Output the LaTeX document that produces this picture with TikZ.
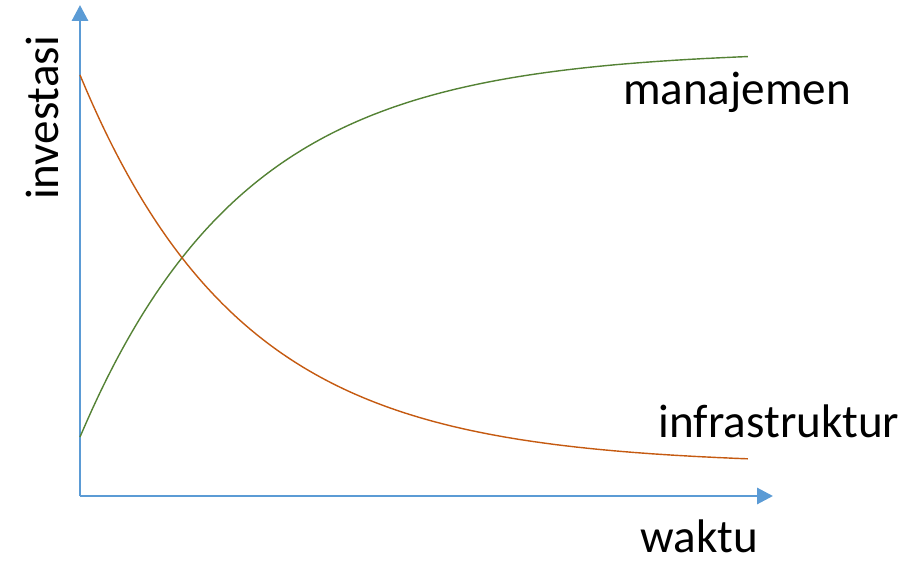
\documentclass[tikz,border=0pt]{standalone}
\usepackage{fontspec}
\setmainfont{Carlito}
\usepackage{tikz}
\usetikzlibrary{arrows.meta,calc}

\definecolor{axisblue}{HTML}{5B9BD5}
\definecolor{mgmtgreen}{HTML}{548235}
\definecolor{infraorange}{HTML}{C55A11}

\tikzset{
	axisline/.style={axisblue,line width=1.7pt,-{Triangle[length=0.32cm,width=0.32cm]}},
	curveline/.style={line width=0.8pt},
	lbl/.style={font=\fontsize{26.8}{30}\selectfont,inner sep=0pt,anchor=base}
}

\begin{document}
\begin{tikzpicture}
		\useasboundingbox (-1.6,-1.34) rectangle (16.8,9.92);
		
		% axes
		\coordinate (O) at (0,0);
		\coordinate (xend) at (13.86,0);
		\coordinate (yend) at (0,9.82);
		\draw[axisline] (O) -- (xend);
		\draw[axisline] (O) -- (yend);
		\node[lbl] (waktu) at (12.38,-1.12) {waktu};
		\node[lbl,rotate=90] (investasi) at (-0.44,7.56) {investasi};
		
		% management investment grows
		\draw[domain=0:13.36,samples=200,smooth,variable=\x,
		mgmtgreen,curveline]
		plot (\x,{8.92 - 7.74*exp(-0.305*\x)});
		\node[lbl] (manajemen) at (13.14,7.82) {manajemen};
		
		% infrastructure investment decays
		\draw[domain=0:13.36,samples=200,smooth,variable=\x,
		infraorange,curveline]
		plot (\x,{0.62 + 7.8*exp(-0.31*\x)});
		\node[lbl] (infrastruktur) at (13.98,1.18) {infrastruktur};
		
	\end{tikzpicture}
\end{document}
